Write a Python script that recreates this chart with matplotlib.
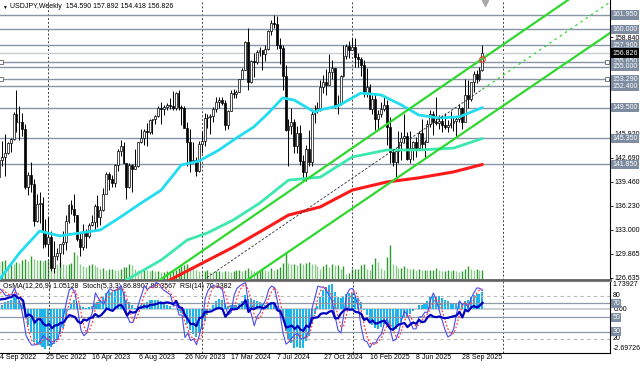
import numpy as np
import pandas as pd
import matplotlib
matplotlib.use('Agg')
import matplotlib.pyplot as plt
from matplotlib.transforms import blended_transform_factory as blend

plt.rcParams['font.family'] = ['Liberation Sans', 'DejaVu Sans']

# USDJPY weekly, Jan - Aug 2022 (off screen, only warms up the indicators)
pre_high = [116.35, 115.9, 114.9, 115.7, 115.6, 116.3, 115.8, 115.8, 115.8, 117.4, 119.4, 122.4,
            125.1, 124.7, 126.7, 129.4, 131.3, 131.2, 131.3, 129.8, 128.0, 130.98, 134.6, 135.6,
            136.7, 137.0, 136.6, 139.4, 138.9, 137.5, 135.6, 135.6, 137.2, 137.7, 140.8]
pre_low = [115.0, 113.5, 113.5, 113.5, 114.2, 114.9, 114.6, 114.4, 114.6, 114.8, 116.9, 119.0,
           121.2, 122.4, 124.3, 126.3, 126.9, 128.6, 127.5, 127.0, 126.4, 127.2, 130.5, 131.5,
           134.3, 134.8, 134.7, 136.1, 135.6, 132.5, 130.4, 131.7, 132.6, 136.3, 137.6]
pre_close = [115.6, 114.2, 113.7, 115.2, 115.2, 115.4, 115.0, 115.5, 114.8, 117.3, 119.2, 122.1,
             122.5, 124.3, 126.4, 128.5, 129.8, 130.6, 129.2, 127.9, 127.1, 130.9, 134.4, 135.0,
             135.2, 135.2, 136.1, 138.5, 136.1, 133.3, 135.0, 133.4, 137.0, 137.7, 140.2]
pre_open0 = 115.1

# bars on the chart: 4 Sep 2022 .. 16 Nov 2025
high_2022 = [145.0, 145.0, 145.9, 144.9, 145.4, 148.9, 151.9, 149.7, 148.8, 147.3, 140.8, 142.2,
             139.9, 137.9, 138.2, 137.5, 134.5]
high_2023 = [134.8, 132.9, 131.6, 130.6, 131.2, 132.9, 135.1, 136.5, 137.1, 137.9, 135.1, 132.6,
             133.8, 133.2, 134.0, 135.1, 136.6, 137.8, 136.3, 138.7, 140.9, 140.9, 140.5, 141.9,
             143.9, 145.1, 144.9, 142.1, 142.0, 141.9, 143.9, 144.9, 146.6, 146.6, 147.4, 147.9,
             147.9, 148.5, 149.7, 150.2, 149.8, 150.1, 150.8, 151.7, 151.6, 151.9, 149.9, 149.7,
             147.5, 146.6, 144.9, 142.8]
high_2024 = [145.0, 146.4, 148.8, 148.7, 148.6, 149.6, 150.9, 150.9, 150.9, 150.5, 149.2, 151.9,
             151.97, 151.8, 153.3, 154.8, 158.4, 160.2, 155.9, 156.8, 157.2, 157.7, 157.2, 157.9,
             159.9, 161.3, 161.95, 161.8, 158.9, 157.9, 155.2, 147.9, 149.4, 148.0, 147.0, 147.2,
             143.1, 144.5, 146.5, 149.0, 149.9, 150.3, 153.2, 153.9, 154.7, 156.7, 155.9, 154.7,
             151.2, 153.9, 157.9, 158.1, 158.5]
high_2025 = [158.9, 158.9, 156.8, 156.3, 155.9, 154.8, 152.7, 151.2, 151.3, 149.2, 150.2, 151.2,
             150.5, 148.3, 143.9, 144.1, 146.3, 146.2, 148.7, 146.2, 146.3, 145.0, 145.5, 146.3,
             148.0, 145.2, 147.8, 149.2, 149.0, 150.9, 148.5, 148.5, 148.8, 147.8, 149.1, 148.2,
             148.3, 149.95, 149.6, 153.3, 153.2, 153.0, 154.4, 154.5, 155.0, 157.892]

low_2022 = [140.2, 141.6, 140.3, 143.3, 143.5, 145.2, 146.2, 145.1, 145.7, 138.5, 137.7, 138.1,
            133.6, 134.1, 134.0, 130.6, 130.8]
low_2023 = [129.5, 127.5, 127.2, 129.0, 128.1, 129.8, 130.4, 134.0, 135.2, 134.1, 131.6, 129.6,
            130.4, 130.6, 132.0, 133.6, 133.0, 133.5, 133.7, 135.6, 137.9, 138.4, 138.8, 138.8,
            141.0, 143.0, 142.1, 137.2, 138.7, 138.1, 141.4, 141.5, 144.8, 144.5, 144.4, 145.9,
            145.9, 147.3, 148.3, 147.3, 148.5, 149.2, 149.3, 149.2, 149.2, 149.2, 147.1, 146.7,
            141.6, 140.9, 142.1, 140.3]
low_2024 = [140.8, 143.4, 144.4, 146.7, 145.9, 147.6, 148.9, 149.5, 149.9, 146.5, 146.6, 149.0,
            150.8, 150.8, 151.6, 153.3, 154.5, 151.9, 152.8, 153.6, 155.4, 156.4, 154.6, 155.7,
            157.2, 159.3, 160.2, 157.4, 155.4, 151.9, 146.4, 141.7, 145.9, 143.4, 143.4, 141.8,
            139.6, 139.6, 141.6, 141.6, 147.4, 148.8, 149.1, 151.4, 151.2, 152.9, 153.3, 149.5,
            148.7, 149.8, 153.6, 156.0, 156.2]
low_2025 = [157.2, 154.9, 154.9, 153.7, 150.9, 150.9, 149.3, 148.6, 146.5, 146.6, 148.2, 149.0,
            144.5, 142.1, 141.6, 139.9, 142.0, 142.4, 144.7, 142.4, 142.1, 142.4, 142.8, 143.8,
            143.9, 142.7, 144.9, 146.9, 145.8, 147.1, 146.6, 146.2, 146.6, 146.2, 146.8, 146.3,
            145.5, 147.5, 146.6, 147.9, 149.4, 150.4, 151.6, 152.8, 153.1, 154.418]

close_2022 = [142.5, 142.9, 143.4, 144.7, 145.3, 148.7, 147.6, 147.5, 146.6, 138.8, 140.4, 139.2,
              134.3, 136.6, 136.7, 132.9, 131.1]
close_2023 = [132.1, 127.9, 129.6, 129.9, 131.2, 131.4, 134.2, 136.4, 135.8, 135.0, 131.9, 130.7,
              132.9, 132.2, 133.7, 134.1, 136.3, 134.8, 135.7, 137.9, 140.6, 139.9, 139.4, 141.8,
              143.7, 144.3, 142.1, 138.8, 141.8, 141.2, 141.7, 144.9, 145.4, 146.4, 146.2, 147.8,
              147.9, 148.4, 149.4, 149.3, 149.6, 149.9, 149.7, 149.4, 151.5, 149.6, 149.4, 146.8,
              144.9, 142.2, 142.4, 141.0]
close_2024 = [144.6, 145.0, 148.1, 148.2, 148.4, 149.3, 150.2, 150.5, 150.1, 147.1, 149.1, 151.4,
              151.3, 151.6, 153.3, 154.6, 158.3, 153.0, 155.8, 155.6, 157.0, 157.3, 156.7, 157.4,
              159.8, 160.9, 160.8, 157.9, 157.5, 153.8, 146.5, 147.0, 147.6, 144.4, 146.1, 142.3,
              140.8, 143.9, 142.2, 148.7, 149.1, 149.5, 152.3, 152.9, 152.6, 154.3, 154.8, 149.8,
              150.0, 153.7, 156.4, 157.8, 157.3]
close_2025 = [157.7, 156.3, 156.0, 155.2, 151.4, 152.3, 149.3, 150.6, 148.0, 148.6, 149.3, 149.8,
              146.9, 143.5, 142.2, 143.7, 144.9, 145.4, 145.7, 142.6, 144.0, 144.9, 144.1, 146.1,
              144.6, 144.9, 147.3, 148.6, 147.6, 147.4, 147.7, 147.2, 146.9, 147.1, 147.4, 147.7,
              148.0, 149.5, 147.5, 151.2, 150.6, 152.9, 154.0, 153.4, 154.59, 156.826]

# tick volume (thousands), same bars
volume = [17.7, 18.7, 20, 14.3, 16.7, 15.3, 17.7, 16.7, 19.3, 21, 18.7, 23.3, 21, 19.3, 20, 18.7,
          19.3, 20, 19.3, 18.7, 16, 17.7, 15.3, 14.3, 15.3, 16.7, 27.7, 24.3, 15.3, 13.3, 12.7,
          14.3, 15.3, 14.3, 12.7, 11, 12, 10, 11, 11, 10, 9.3, 11, 12.7, 12.7, 15.3, 14.3, 11, 10,
          9.3, 11, 10, 8.7, 9.3, 8.7, 8.7, 7.7,
          8, 8.7, 9, 9.3, 10, 12, 14, 15, 16, 13, 12, 10,
          9, 8, 8.7, 9.3, 8, 7.7, 8.3, 9, 8, 9, 8.3, 7.7, 8.3, 9.3, 10, 8.7,
          10, 12, 9.3, 8.3, 8.7, 10, 11, 9.3, 9, 12, 10, 11, 13, 16.7,
          26.7, 17, 15.3, 16, 15, 17, 16, 17, 17.7, 16, 15.3, 13.3,
          11, 13.3, 15.3, 12.7, 15.3, 14.3, 14.3, 11, 13.3, 6, 7, 11, 11, 11, 14.3, 15.3, 11, 10,
          15.3, 22, 17.7, 12, 10, 22.7, 34.3, 16, 14.3, 12, 12, 13.3, 12, 11, 11, 10, 11, 9.3, 10,
          9.3, 9.3, 10, 12, 10, 8.7, 8.7, 9.3, 8.7, 9.3, 8.7, 7.7, 8.7, 11, 13.3, 11, 10, 11, 9.3, 10]

# moving averages (bar index, price)
ma_cyan_i = [0, 7, 14, 21, 28, 35, 42, 49, 56, 63, 69, 76, 81, 88, 93, 98, 102, 109, 111, 117,
             125, 132, 139, 145, 152, 159, 167]
ma_cyan_p = [126.3, 129.95, 132.9, 132.25, 132.65, 133.05, 134.8, 136.65, 138.4, 141.8, 142.3,
             143.8, 145.15, 146.9, 148.75, 150.8, 150.5, 148.9, 149.2, 149.7, 151.45, 151.2,
             149.85, 148.5, 148.1, 148.25, 149.5]
ma_teal_i = [44, 56, 65, 72, 81, 90, 100, 111, 122, 134, 145, 157, 167]
ma_teal_p = [126.33, 129.0, 131.7, 132.65, 134.4, 136.65, 139.75, 140.15, 142.85, 143.8, 143.8,
             144.05, 145.35]
ma_red_i = [59, 69, 81, 93, 100, 111, 122, 134, 145, 157, 167]
ma_red_p = [126.33, 128.35, 130.75, 133.45, 135.05, 136.15, 138.4, 139.5, 140.05, 140.85, 141.85]

# channel anchors (bar index, price)
chan_upper = [(55.6, 126.33), (196.6, 163.96)]
chan_lower = [(85.7, 126.33), (211.1, 159.52)]
chan_mid_start = 71.8

levels = [161.95, 160.0, 157.9, 155.65, 155.0, 153.29, 152.4, 149.5, 145.35, 141.85]
anchored_levels = [155.65, 153.29]
# price scale labels (the ones fully hidden behind level boxes are left out)
price_ticks = ['126.635', '129.865', '133.000', '136.230', '139.460', '142.690', '145.920',
               '149.150', '', '', '158.840', '']
tick_step = 3.23

title = 'USDJPY,Weekly  154.590 157.892 154.418 156.826'
ind_title = 'OsMA(12,26,9) 1.05128  Stoch(5,3,3) 86.8907 88.3567  RSI(14) 70.3382'
osma_range = (-2.69726, 1.73927)

# ---------------------------------------------------------------
n_pre = len(pre_close)
hi = np.array(pre_high + high_2022 + high_2023 + high_2024 + high_2025)
lo = np.array(pre_low + low_2022 + low_2023 + low_2024 + low_2025)
cl = np.array(pre_close + close_2022 + close_2023 + close_2024 + close_2025)
op = np.r_[pre_open0, cl[:-1]]
hi = np.maximum(hi, np.maximum(op, cl))
lo = np.minimum(lo, np.minimum(op, cl))
x = np.arange(len(cl)) - n_pre
last = x[-1]

c = pd.Series(cl)
macd = c.ewm(span=12, adjust=False).mean() - c.ewm(span=26, adjust=False).mean()
osma = (macd - macd.rolling(9).mean()).values
hh = pd.Series(hi).rolling(5).max()
ll = pd.Series(lo).rolling(5).min()
st_main = 100 * (c - ll).rolling(3).sum() / (hh - ll).rolling(3).sum()
st_sig = st_main.rolling(3).mean()
d = c.diff().fillna(0)
gain = d.clip(lower=0).ewm(alpha=1 / 14, adjust=False).mean()
loss = (-d).clip(lower=0).ewm(alpha=1 / 14, adjust=False).mean()
rsi = 100 - 100 / (1 + gain / loss)

dates = pd.date_range('2022-09-04', periods=212, freq='7D')
years = dates.year.values
separators = [k for k in range(1, len(dates)) if years[k] != years[k - 1]]
date_ticks = list(range(0, last + 1, 16))
date_labels = [f'{dates[k].day} {dates[k].strftime("%b %Y")}' for k in date_ticks]

W, H = 640, 366
def rect(x0, y0, x1, y1):
    return [x0 / W, 1 - y1 / H, (x1 - x0) / W, (y1 - y0) / H]

xlim = (0.31, 211.1)
ylim = (126.39, 163.96)
fs = 5
lvl_col = '#8795a5'

fig = plt.figure(figsize=(6.4, 3.66), dpi=100)

# volumes (under the price chart)
axv = fig.add_axes(rect(0, 0, 610, 279.5))
axv.set_xlim(xlim)
axv.set_ylim(0, max(volume) * 8.15)
vol = np.array(volume)
vcol = ['#2f9a2f' if k == 0 or vol[k] >= vol[k - 1] else '#8fc98f' for k in range(len(vol))]
axv.vlines(np.arange(len(vol)), 0, vol, colors=vcol, lw=1.0)
axv.axis('off')

ax = fig.add_axes(rect(0, 0, 610, 279.5))
ax.set_facecolor('none')
ax.set_xlim(xlim)
ax.set_ylim(ylim)
for s in ['top', 'left']:
    ax.spines[s].set_visible(False)
ax.spines['right'].set_color('black')
ax.spines['right'].set_linewidth(0.8)
ax.spines['bottom'].set_color('#606060')
ax.spines['bottom'].set_linewidth(2)
ax.set_xticks([])
ax.yaxis.tick_right()
ax.set_yticks([126.635 + tick_step * k for k in range(len(price_ticks))], price_ticks)
ax.tick_params(axis='y', labelsize=fs, length=2, width=0.6, pad=1.5, colors='black')

for sx in separators:
    ax.axvline(sx, color='#404040', lw=0.7, ls=(0, (2, 2)), zorder=1)

for lv in levels:
    ax.axhline(lv, color=lvl_col, lw=1.0, zorder=2)
ax.axhline(cl[-1], color='#c8ccd2', lw=1.0, zorder=2)
tr_r = blend(ax.transAxes, ax.transData)
for lv in anchored_levels:
    ax.plot([1 / 610, 607 / 610], [lv, lv], 's', ms=3, mfc='white', mec='#606060', mew=0.6,
            transform=tr_r, clip_on=False, zorder=6)

# candles
up = cl >= op
ax.vlines(x, lo, hi, color='black', lw=0.7, zorder=3)
ax.bar(x[up], (cl - op)[up], bottom=op[up], width=0.65, color='white', edgecolor='black',
       lw=0.5, zorder=4)
ax.bar(x[~up], (cl - op)[~up], bottom=op[~up], width=0.65, color='black', edgecolor='black',
       lw=0.5, zorder=4)

# moving averages
ax.plot(ma_cyan_i, ma_cyan_p, color='#22dcf0', lw=2.0, zorder=5, solid_capstyle='round',
        solid_joinstyle='round')
ax.plot(ma_teal_i, ma_teal_p, color='#3ce8b0', lw=2.0, zorder=5, solid_capstyle='round',
        solid_joinstyle='round')
ax.plot(ma_red_i, ma_red_p, color='#ff1a1a', lw=2.2, zorder=5, solid_capstyle='round',
        solid_joinstyle='round')

# channel
def line_at(anchor, xx):
    (x1, y1), (x2, y2) = anchor
    return y1 + (y2 - y1) / (x2 - x1) * (np.asarray(xx) - x1)

xs = np.array([-5, 215])
ax.plot(xs, line_at(chan_upper, xs), color='#2fd82f', lw=1.6, zorder=5)
ax.plot(xs, line_at(chan_lower, xs), color='#2fd82f', lw=1.6, zorder=5)
xm = np.array([chan_mid_start, last])
ax.plot(xm, (line_at(chan_upper, xm) + line_at(chan_lower, xm)) / 2, color='#303030', lw=0.6,
        ls=(0, (3, 2)), zorder=5)
xe = np.array([last, 215])
ax.plot(xe, (line_at(chan_upper, xe) + line_at(chan_lower, xe)) / 2, color='#2fd82f', lw=0.9,
        ls=(0, (2, 3)), zorder=5)
ax.plot(last, line_at(chan_upper, last), 'o', ms=4, mfc='none', mec='#ff3030', mew=0.8, zorder=6)
ax.plot(last + 1, 1 - 3 / 279.5, 'v', ms=4, color='#a8a8a8', transform=blend(ax.transData, ax.transAxes),
        clip_on=False, zorder=6)

# level labels on the price scale
for lv in levels:
    ax.annotate(f'{lv:.3f}', xy=(1, lv), xycoords=tr_r, xytext=(2, 0), textcoords='offset pixels',
                ha='left', va='center', fontsize=fs, color='white', zorder=8, annotation_clip=False,
                bbox=dict(boxstyle='square,pad=0.18', fc='#7d8ca0', ec='none'))
ax.annotate(f'{cl[-1]:.3f}', xy=(1, cl[-1]), xycoords=tr_r, xytext=(2, 0), textcoords='offset pixels',
            ha='left', va='center', fontsize=fs, color='white', zorder=9, annotation_clip=False,
            bbox=dict(boxstyle='square,pad=0.18', fc='black', ec='none'))

ax.text(2 / 610, 1 - 7 / 279.5, '\u25bc', transform=ax.transAxes, fontsize=3.5, va='center',
        ha='left', color='black')
ax.text(10 / 610, 1 - 7 / 279.5, title, transform=ax.transAxes, fontsize=fs, va='center', ha='left',
        color='black')

# ---------------- indicator window
ax_os = fig.add_axes(rect(0, 281, 610, 352.5))
ax_os.set_xlim(xlim)
ax_os.set_ylim(osma_range)
ax_os.axis('off')
ax_os.bar(x, osma, width=0.7, color='#1cb4ec', zorder=2)

ax2 = fig.add_axes(rect(0, 281, 610, 352.5))
ax2.set_facecolor('none')
ax2.set_xlim(xlim)
ax2.set_ylim(1.1, 100.8)
ax2.spines['left'].set_visible(False)
ax2.spines['top'].set_color('#808080')
ax2.spines['top'].set_linewidth(0.8)
ax2.spines['bottom'].set_linewidth(0.8)
ax2.spines['right'].set_linewidth(0.8)
ax2.set_yticks([])
ax2.set_xticks(date_ticks, date_labels)
ax2.tick_params(axis='x', labelsize=fs, length=0, pad=1)
for lab in ax2.get_xticklabels():
    lab.set_horizontalalignment('left')

for sx in separators:
    ax2.axvline(sx, color='#404040', lw=0.7, ls=(0, (2, 2)), zorder=1)
for lv in (80, 20):
    ax2.axhline(lv, color='#b8b8b8', lw=0.8, ls=(0, (3, 3)), zorder=1)
for lv in (70, 50, 30):
    ax2.axhline(lv, color='#8e9aa8', lw=0.9, zorder=1)
ax_os.axhline(0, color='#c0c6cc', lw=1.2, zorder=1)

ax2.plot(x, st_main, color='#4a4af0', lw=0.8, zorder=4)
ax2.plot(x, st_sig, color='#ff4040', lw=0.9, ls=(0, (1.5, 1.5)), zorder=4)
ax2.plot(x, rsi, color='#0000c0', lw=1.6, zorder=5)

tr2 = blend(ax2.transAxes, ax2.transData)
tro = blend(ax_os.transAxes, ax_os.transData)
for lv in (80, 20):
    ax2.text(1.004, lv, str(lv), transform=tr2, fontsize=fs, va='center', ha='left', clip_on=False)
for lv in (70, 50, 30):
    ax2.text(1.004, lv, str(lv), transform=tr2, fontsize=fs, va='center', ha='left', color='white',
             clip_on=False, zorder=6, bbox=dict(boxstyle='square,pad=0.15', fc='#7d8ca0', ec='none'))
ax2.text(1.006, 0, '0.00', transform=tro, fontsize=fs, va='center', ha='left', clip_on=False)
ax2.text(1.004, osma_range[1], f'{osma_range[1]:.5f}', transform=tro, fontsize=fs, va='top', ha='left',
         clip_on=False)
ax2.text(1.004, osma_range[0], f'{osma_range[0]:.5f}', transform=tro, fontsize=fs, va='bottom',
         ha='left', clip_on=False)
ax2.text(3 / 610, 0.92, ind_title, transform=ax2.transAxes, fontsize=fs, va='center', ha='left')

fig.savefig('out.png', dpi=100)
